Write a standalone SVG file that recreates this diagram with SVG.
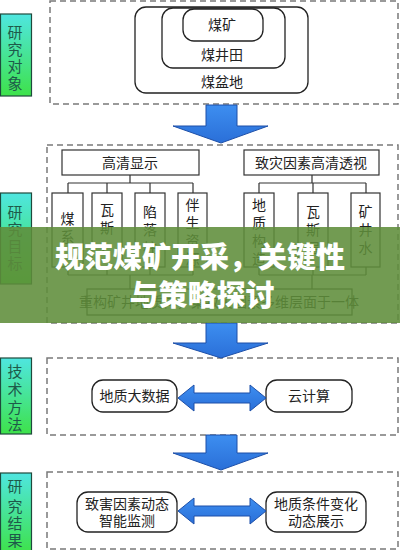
<svg xmlns="http://www.w3.org/2000/svg" width="400" height="550" viewBox="0 0 400 550">
<defs>
<linearGradient id="lg" x1="0" y1="0" x2="0" y2="1">
<stop offset="0" stop-color="#4fe6e0"/>
<stop offset="1" stop-color="#3ee24a"/>
</linearGradient>
<linearGradient id="bg" x1="0" y1="0" x2="0" y2="1">
<stop offset="0" stop-color="#3d8ef0"/>
<stop offset="1" stop-color="#2a6fd8"/>
</linearGradient>
<style>
text{font-family:"Noto Sans CJK SC","Noto Sans CJK JP",sans-serif;fill:#222;text-anchor:middle}
.lab rect{fill:url(#lg);stroke:#1e4a3c;stroke-width:1.2}
.lab text{font-size:15px;fill:#1e5a4a}
.dash{fill:none;stroke:#7a7a7a;stroke-width:1.5;stroke-dasharray:6 4}
.rr{fill:#fff;stroke:#222;stroke-width:1.3}
.bx{fill:#fff;stroke:#333;stroke-width:1.2}
.t{font-size:14px}
.ln{fill:none;stroke:#333;stroke-width:1.2}
.arr{fill:url(#bg);stroke:#1d4fa8;stroke-width:1}
.ban{font-size:29px;font-weight:900;fill:#fff}
</style>
</defs>

<g id="labels" class="lab">
<g id="lab1"><rect x="0.5" y="14" width="31" height="82"/><text><tspan x="15" y="38">研</tspan><tspan x="15" y="55">究</tspan><tspan x="15" y="72">对</tspan><tspan x="15" y="89">象</tspan></text></g>
<g id="lab2"><rect x="0.5" y="193" width="31" height="91"/><text><tspan x="15" y="218">研</tspan><tspan x="15" y="235">究</tspan><tspan x="15" y="252">目</tspan><tspan x="15" y="269">标</tspan></text></g>
<g id="lab3"><rect x="0.5" y="358" width="31" height="76"/><text><tspan x="15" y="377">技</tspan><tspan x="15" y="395">术</tspan><tspan x="15" y="413">方</tspan><tspan x="15" y="430">法</tspan></text></g>
<g id="lab4"><rect x="0.5" y="473" width="31" height="80"/><text><tspan x="15" y="492">研</tspan><tspan x="15" y="512">究</tspan><tspan x="15" y="529">结</tspan><tspan x="15" y="546">果</tspan></text></g>
</g>

<g id="frames">
<rect class="dash" x="50" y="1" width="348" height="103"/>
<rect class="dash" x="47" y="145" width="351" height="178"/>
<rect class="dash" x="47" y="358" width="351" height="77"/>
<rect class="dash" x="47" y="472" width="351" height="77"/>
</g>

<g id="n-coalbasin"><rect class="rr" x="135" y="7" width="173" height="86" rx="11"/><text class="t" x="222" y="87" font-size="15">煤盆地</text></g>
<g id="n-coalfield"><rect class="rr" x="162" y="8" width="123" height="60" rx="11"/><text class="t" x="222" y="60" font-size="15">煤井田</text></g>
<g id="n-coalmine"><rect class="rr" x="183" y="9" width="80" height="32" rx="11"/><text class="t" x="222" y="30" font-size="15">煤矿</text></g>

<g id="n-hd"><rect class="bx" x="62" y="150" width="137" height="25"/><text class="t" x="130" y="168">高清显示</text></g>
<g id="n-persp"><rect class="bx" x="244" y="150" width="135" height="25"/><text class="t" x="311" y="168">致灾因素高清透视</text></g>
<g id="n-c1"><rect class="bx" x="52" y="193" width="31" height="74"/><text class="t"><tspan x="67.5" y="224">煤</tspan><tspan x="67.5" y="242">系</tspan></text></g>
<g id="n-c2"><rect class="bx" x="92" y="193" width="30" height="74"/><text class="t"><tspan x="107" y="215">瓦</tspan><tspan x="107" y="233">斯</tspan><tspan x="107" y="251">、</tspan></text></g>
<g id="n-c3"><rect class="bx" x="135" y="193" width="30" height="74"/><text class="t"><tspan x="150" y="217">陷</tspan><tspan x="150" y="235">落</tspan><tspan x="150" y="253">柱</tspan></text></g>
<g id="n-c4"><rect class="bx" x="178" y="193" width="29" height="74"/><text class="t"><tspan x="192.5" y="210">伴</tspan><tspan x="192.5" y="228">生</tspan><tspan x="192.5" y="246">资</tspan><tspan x="192.5" y="264">源</tspan></text></g>
<g id="n-c5"><rect class="bx" x="244" y="193" width="30" height="74"/><text class="t"><tspan x="259" y="210">地</tspan><tspan x="259" y="228">质</tspan><tspan x="259" y="246">构</tspan><tspan x="259" y="264">造</tspan></text></g>
<g id="n-c6"><rect class="bx" x="298" y="193" width="30" height="74"/><text class="t"><tspan x="313" y="217">瓦</tspan><tspan x="313" y="235">斯</tspan><tspan x="313" y="253">层</tspan></text></g>
<g id="n-c7"><rect class="bx" x="351" y="193" width="29" height="74"/><text class="t"><tspan x="365.5" y="217">矿</tspan><tspan x="365.5" y="235">井</tspan><tspan x="365.5" y="253">水</tspan></text></g>
<g id="n-rebuild"><rect class="bx" x="87" y="289" width="265" height="26"/><text class="t" x="219" y="307" font-size="12.5">重构矿井地质体，集致灾因素多维层面于一体</text></g>

<g id="n-bigdata"><rect class="rr" x="92" y="380" width="85" height="32" rx="11"/><text class="t" x="134.5" y="401">地质大数据</text></g>
<g id="n-cloud"><rect class="rr" x="266" y="380" width="86" height="32" rx="11"/><text class="t" x="309" y="401">云计算</text></g>
<g id="n-monitor"><rect class="rr" x="77" y="492" width="100" height="40" rx="11"/><text class="t"><tspan x="127" y="509">致害因素动态</tspan><tspan x="127" y="526">智能监测</tspan></text></g>
<g id="n-show"><rect class="rr" x="266" y="492" width="100" height="40" rx="11"/><text class="t"><tspan x="316" y="509">地质条件变化</tspan><tspan x="316" y="526">动态展示</tspan></text></g>

<g id="connectors">
<path class="ln" d="M130 175V183M68 183H193M68 183V193M107 183V193M150 183V193M193 183V193"/>
<path class="ln" d="M312 175V183M259 183H366M259 183V193M313 183V193M366 183V193"/>
<path class="ln" d="M68 267V275M107 267V275M150 267V275M193 267V275M68 275H193M130 275V289"/>
<path class="ln" d="M259 267V275M313 267V275M366 267V275M259 275H366M312 275V289"/>
<path class="arr" d="M206 105H237V126H268L221 143L173 126H206Z"/>
<path class="arr" d="M206 323H237V343H268L221 358L173 343H206Z"/>
<path class="arr" d="M206 435H237V453H268L221 470L173 453H206Z"/>
<path class="arr" d="M178 398L194 385V393H250V385L266 398L250 411V403H194V411Z"/>
<path class="arr" d="M178 511L194 498V506H250V498L266 511L250 524V516H194V524Z"/>
</g>

<g id="banner">
<rect x="0" y="227" width="400" height="96" fill="#5f8d3a" fill-opacity="0.88"/>
<text class="ban" x="200" y="268">规范煤矿开采，关键性</text>
<text class="ban" x="202" y="306">与策略探讨</text>
</g>
</svg>
